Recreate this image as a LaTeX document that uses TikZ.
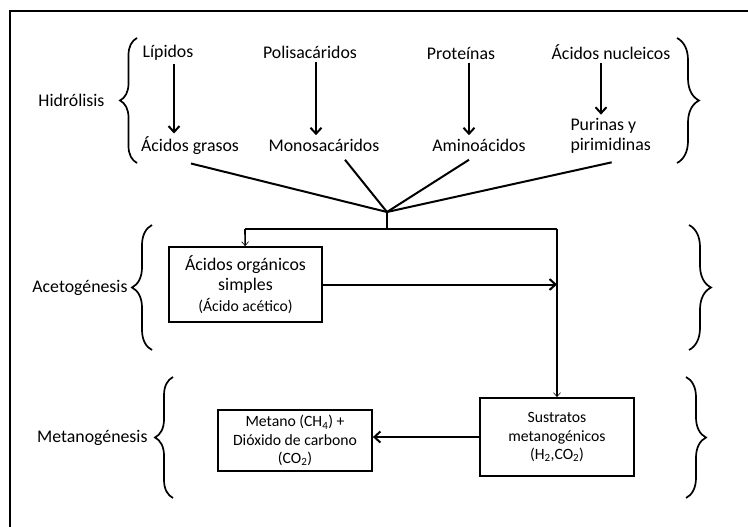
\documentclass[tikz,border=0pt]{standalone}
\usepackage{fontspec}
\setmainfont{Carlito}
\usetikzlibrary{positioning}
\usetikzlibrary{arrows.meta}
\usetikzlibrary{decorations.pathreplacing}
\tikzset{
  texto/.style={font=\fontsize{17.8}{20.5}\selectfont, align=center},
  chico/.style={font=\fontsize{15.7}{18.3}\selectfont, align=center},
  caja/.style={draw, line width=1.8pt, align=center, inner sep=2pt},
  flecha/.style={line width=2pt, -{Straight Barb[length=6pt,width=11pt,line width=2pt]}},
  fina/.style={line width=1.6pt, -{Straight Barb[length=4pt,width=7pt,line width=0.6pt]}},
  llave/.style={decorate, decoration={brace, amplitude=#1}, line width=1.7pt},
}

\begin{document}
\begin{tikzpicture}[x=1pt,y=-1pt]
\useasboundingbox (0,0) rectangle (748,527);
\draw[line width=2pt] (748,11) -- (10,11) -- (10,527);
% hidrolisis
\node[texto] (lip) at (168,53) {Lípidos};
\node[texto] (polis) at (310,52) {Polisacáridos};
\node[texto] (prot) at (461,53) {Proteínas};
\node[texto] (nucl) at (611,52) {Ácidos nucleicos};
\node[texto] (agr) at (190,146) {Ácidos grasos};
\node[texto] (mono) at (324,145) {Monosacáridos};
\node[texto] (amino) at (479,145) {Aminoácidos};
\node[texto, align=left, anchor=west] (purin) at (567,136) {Purinas y\\pirimidinas};
\foreach \a/\b/\x in {lip/agr/174, polis/mono/316, prot/amino/469, nucl/purin/601} {
\draw[flecha] (\x,0 |- \a.south) -- (\x,0 |- \b.north);
}
\coordinate (hub) at (387,212);
\foreach \a/\dx in {agr/1, mono/21, amino/-10, purin/1} {
\draw[line width=2pt] ([shift={(\dx,5)}]\a.south) -- (hub);
}
% cajas
\node[caja, texto, minimum width=153, minimum height=75] (acido) at (245.5,284.5)
  {Ácidos orgánicos\\simples\\{\fontsize{15.7}{19.5}\selectfont(Ácido acético)}};
\node[caja, chico, minimum width=154, minimum height=61] (met) at (295,440.5)
  {Metano (CH\textsubscript{4}) +\\Dióxido de carbono\\(CO\textsubscript{2})};
\node[caja, chico, minimum width=154, minimum height=78] (sust) at (557,437)
  {Sustratos\\metanogénicos\\(H\textsubscript{2},CO\textsubscript{2})};
\coordinate (bar) at (387,229);
\coordinate (barL) at (245,229);
\coordinate (barR) at (557,229);
\draw[line width=2pt] (hub) -- (bar);
\draw[line width=2pt] (barL) -- (barR);
\draw[fina] (barL) -- (acido);
\draw[fina] (barR) -- (sust);
\draw[flecha] (acido.east) -- (acido.east -| sust.north);
\draw[flecha] (sust.west) -- (sust.west -| met.east);
% llaves
\draw[llave=17pt] (137,163) -- (137,38) coordinate[pos=0.5,xshift=-17pt] (thidr);
\draw[llave=20pt] (152,350) -- (152,225) coordinate[pos=0.5,xshift=-20pt] (tacet);
\draw[llave=18pt] (173,498) -- (173,377) coordinate[pos=0.5,xshift=-18pt] (tmeta);
\node[texto, left=12pt of thidr] (lhidr) {Hidrólisis};
\node[texto, left=1pt of tacet] (lacet) {Acetogénesis};
\node[texto, left=4pt of tmeta] (lmeta) {Metanogénesis};
\foreach \x/\ya/\yb/\amp in {677/38/163/22, 689/225/350/22, 686/377/498/20} {
\draw[llave=\amp pt] (\x,\ya) -- (\x,\yb);
}
\end{tikzpicture}
\end{document}
